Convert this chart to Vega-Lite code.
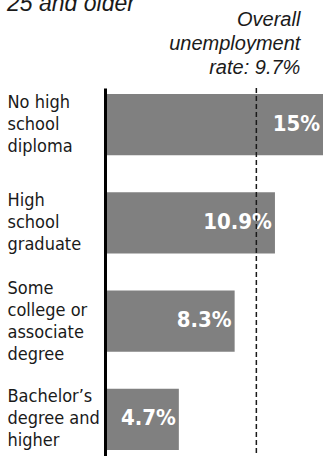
{
  "$schema": "https://vega.github.io/schema/vega-lite/v6.json",
  "autosize": {"type": "none"},
  "padding": {"left": 106, "top": 88, "right": 0, "bottom": 0},
  "width": 217,
  "height": 368,
  "background": "#ffffff",
  "title": {
    "text": "25 and older",
    "anchor": "start",
    "frame": "group",
    "font": "Liberation Sans",
    "fontStyle": "italic",
    "fontWeight": "normal",
    "fontSize": 23,
    "color": "#1a1a1a",
    "baseline": "alphabetic",
    "dx": -99,
    "dy": 24,
    "offset": 0
  },
  "config": {"view": {"stroke": null}},
  "layer": [
    {
      "data": {
        "values": [
          {"group": "No high\nschool\ndiploma", "value": 15},
          {"group": "High\nschool\ngraduate", "value": 10.9},
          {"group": "Some\ncollege or\nassociate\ndegree", "value": 8.3},
          {"group": "Bachelor’s\ndegree and\nhigher", "value": 4.7}
        ]
      },
      "encoding": {
        "y": {
          "field": "group",
          "type": "nominal",
          "sort": null,
          "scale": {"paddingInner": 0.375, "paddingOuter": 0.06},
          "axis": {
            "title": null,
            "ticks": false,
            "labelExpr": "split(datum.label, '\\n')",
            "labelAlign": "left",
            "labelBaseline": "middle",
            "labelOffset": {"condition": {"test": "indexof(datum.value, 'Some') == 0", "value": -32}, "value": -22},
            "labelPadding": 98,
            "labelFont": "DejaVu Sans Condensed",
            "labelFontSize": 18,
            "labelLineHeight": 22,
            "labelColor": "#1a1a1a",
            "labelLimit": 200,
            "domainColor": "#000000",
            "domainWidth": 3,
            "offset": 1,
            "zindex": 2
          }
        },
        "x": {
          "field": "value",
          "type": "quantitative",
          "scale": {"domain": [0, 14], "clamp": true, "nice": false},
          "axis": null
        }
      },
      "layer": [
        {"mark": {"type": "bar", "color": "#808080"}},
        {
          "mark": {
            "type": "text",
            "align": "right",
            "baseline": "middle",
            "dx": -3,
            "dy": -1,
            "font": "DejaVu Sans Condensed",
            "fontWeight": "bold",
            "fontSize": 22,
            "color": "#ffffff",
            "text": {"expr": "datum.value + '%'"}
          }
        }
      ]
    },
    {
      "data": {"values": [{"rate": 9.7}]},
      "layer": [
        {
          "mark": {"type": "rule", "color": "#1a1a1a", "strokeWidth": 1.5, "strokeDash": [5, 3]},
          "encoding": {"x": {"field": "rate", "type": "quantitative"}}
        },
        {
          "mark": {
            "type": "text",
            "align": "right",
            "baseline": "alphabetic",
            "font": "Liberation Sans",
            "fontStyle": "italic",
            "fontSize": 20,
            "lineHeight": 24,
            "color": "#1a1a1a",
            "dx": 44,
            "text": ["Overall", "unemployment", "rate: 9.7%"]
          },
          "encoding": {"x": {"field": "rate", "type": "quantitative"}, "y": {"value": -62}}
        }
      ]
    }
  ]
}
